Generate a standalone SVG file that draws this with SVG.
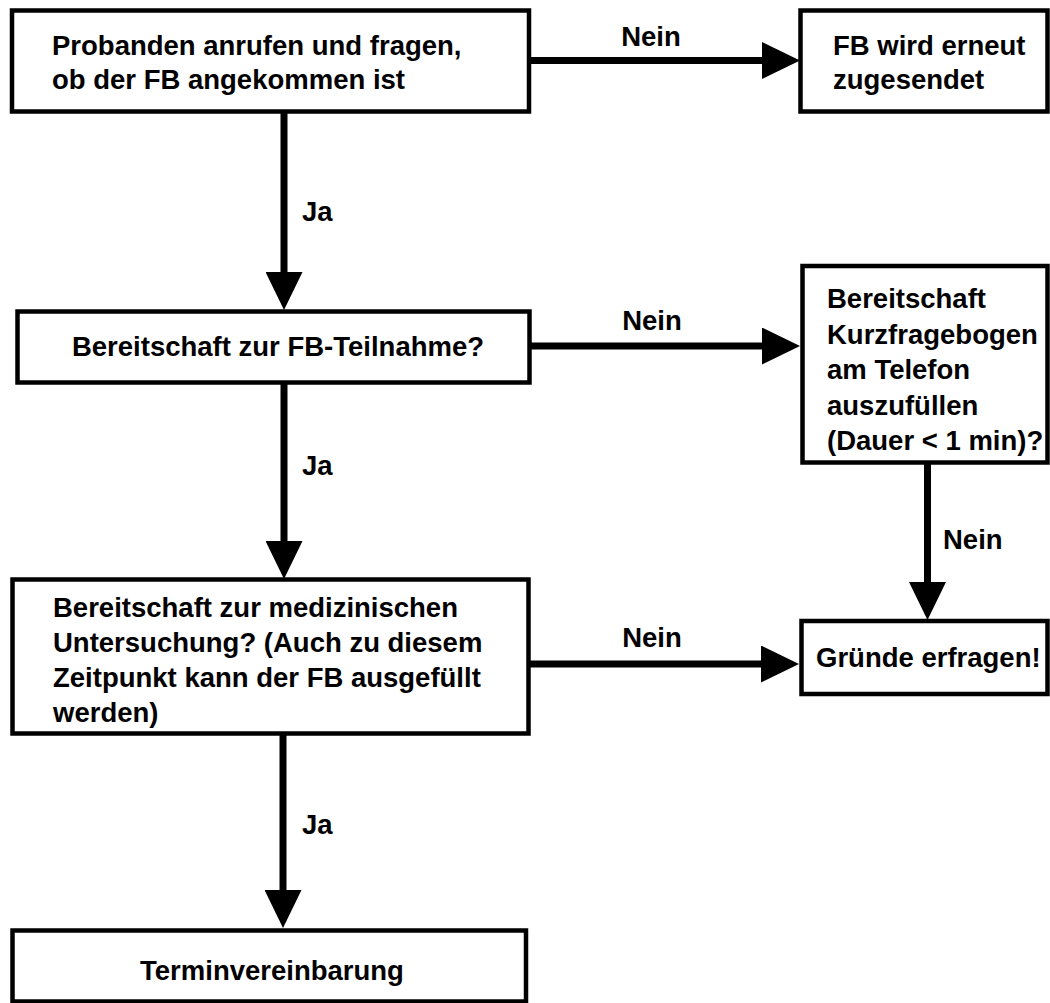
<svg xmlns="http://www.w3.org/2000/svg" width="1050" height="1003" viewBox="0 0 1050 1003">
  <style>
    .box { fill: #ffffff; stroke: #000000; stroke-width: 4.5; }
    .txt { font-family: "Liberation Sans", Arial, Helvetica, sans-serif; font-weight: bold; font-size: 27.5px; fill: #000000; }
    .mid { text-anchor: middle; }
    .conn { fill: none; stroke: #000000; stroke-width: 7; marker-end: url(#ah); }
  </style>
  <defs>
    <marker id="ah" viewBox="0 0 38 37" refX="1" refY="18.5" markerWidth="38" markerHeight="37" markerUnits="userSpaceOnUse" orient="auto">
      <path d="M0,0 L38,18.5 L0,37 Z" fill="#000000"/>
    </marker>
  </defs>
  <rect width="1050" height="1003" fill="#ffffff"/>

  <!-- connectors -->
  <g id="connectors">
    <path class="conn" d="M531,60.5 H763"/>
    <path class="conn" d="M284,112 V273"/>
    <path class="conn" d="M531,346 H763"/>
    <path class="conn" d="M284,383 V542"/>
    <path class="conn" d="M530,664 H762"/>
    <path class="conn" d="M927.5,463 V583"/>
    <path class="conn" d="M283,734 V891"/>
    <text class="txt mid" x="651" y="46">Nein</text>
    <text class="txt" x="302" y="221">Ja</text>
    <text class="txt mid" x="652" y="330">Nein</text>
    <text class="txt" x="302" y="475">Ja</text>
    <text class="txt mid" x="652" y="647">Nein</text>
    <text class="txt" x="943" y="549">Nein</text>
    <text class="txt" x="302" y="834">Ja</text>
  </g>

  <!-- nodes -->
  <g id="anrufen">
    <rect class="box" x="12" y="10.5" width="517" height="101"/>
    <text class="txt" x="52" y="55">Probanden anrufen und fragen,</text>
    <text class="txt" x="52" y="89">ob der FB angekommen ist</text>
  </g>
  <g id="erneut-zusenden">
    <rect class="box" x="800.5" y="10.5" width="247" height="101"/>
    <text class="txt" x="833" y="55">FB wird erneut</text>
    <text class="txt" x="833" y="89">zugesendet</text>
  </g>
  <g id="fb-teilnahme">
    <rect class="box" x="17.5" y="311.5" width="512" height="71"/>
    <text class="txt mid" x="278" y="356">Bereitschaft zur FB-Teilnahme?</text>
  </g>
  <g id="kurzfragebogen">
    <rect class="box" x="802.5" y="266" width="245" height="196.5"/>
    <text class="txt" x="827" y="308">Bereitschaft</text>
    <text class="txt" x="827" y="344">Kurzfragebogen</text>
    <text class="txt" x="827" y="379">am Telefon</text>
    <text class="txt" x="827" y="415">auszufüllen</text>
    <text class="txt" x="827" y="450">(Dauer &lt; 1 min)?</text>
  </g>
  <g id="untersuchung">
    <rect class="box" x="12.5" y="579.5" width="516" height="154"/>
    <text class="txt" x="53" y="617">Bereitschaft zur medizinischen</text>
    <text class="txt" x="53" y="652">Untersuchung? (Auch zu diesem</text>
    <text class="txt" x="53" y="687">Zeitpunkt kann der FB ausgefüllt</text>
    <text class="txt" x="53" y="722">werden)</text>
  </g>
  <g id="gruende">
    <rect class="box" x="801.5" y="621" width="246" height="73"/>
    <text class="txt" x="816" y="667">Gründe erfragen!</text>
  </g>
  <g id="termin">
    <rect class="box" x="12.5" y="930.5" width="513.5" height="71"/>
    <text class="txt mid" x="272" y="980">Terminvereinbarung</text>
  </g>
</svg>
